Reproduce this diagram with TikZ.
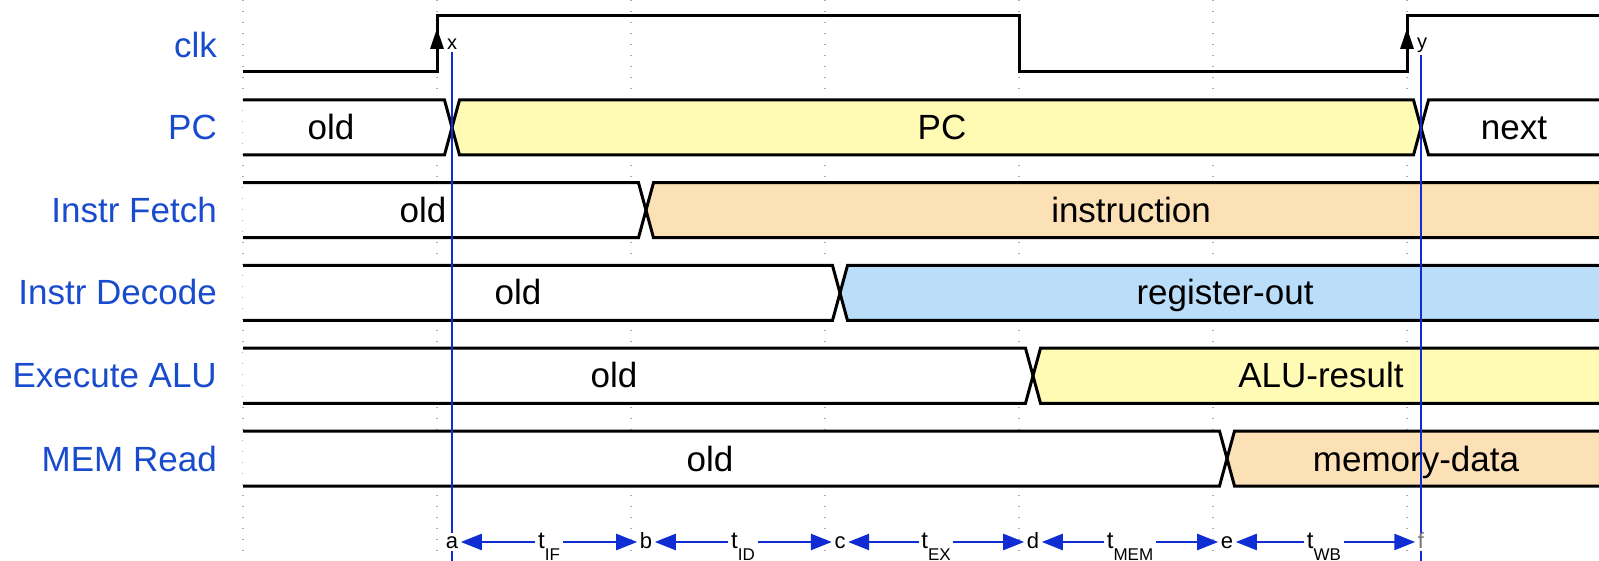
\documentclass[tikz,border=0pt]{standalone}
\usepackage{fontspec}
\setmainfont{Liberation Sans}
\usetikzlibrary{arrows.meta,calc}
\definecolor{sigblue}{RGB}{25,75,205}
\definecolor{markblue}{RGB}{15,45,210}
\definecolor{busyellow}{RGB}{255,250,180}
\definecolor{busorange}{RGB}{252,224,182}
\definecolor{buscyan}{RGB}{186,222,250}
\definecolor{gridgray}{RGB}{170,170,170}

% one bus row: old value (white) until the switch point, then the new value
\newcommand\busrow[3]{%
  \fill[white] (243,#1) -- ({#2-7.5},#1) -- (#2,{#1+27.5}) -- ({#2-7.5},{#1+55}) -- (243,{#1+55}) -- cycle;
  \fill[#3] (1605,#1) -- ({#2+7.5},#1) -- (#2,{#1+27.5}) -- ({#2+7.5},{#1+55}) -- (1605,{#1+55}) -- cycle;
  \draw[wire] (243,#1) -- ({#2-7.5},#1) -- ({#2+7.5},{#1+55}) -- (1605,{#1+55});
  \draw[wire] (243,{#1+55}) -- ({#2-7.5},{#1+55}) -- ({#2+7.5},#1) -- (1605,#1);
}

\begin{document}
\begin{tikzpicture}[x=1pt,y=-1pt,
  rowlabel/.style={anchor=base east,text=sigblue,font=\fontsize{35}{40}\selectfont,inner sep=0pt},
  buslabel/.style={anchor=base,font=\fontsize{35}{40}\selectfont,inner sep=0pt},
  wire/.style={line width=3pt,line join=miter,line cap=butt},
  gridline/.style={gridgray,line width=1.4pt,dash pattern=on 1.4pt off 9.6pt},
  edgemark/.style={line width=2.3pt,markblue},
  edgename/.style={font=\fontsize{20}{20}\selectfont,inner sep=2pt,anchor=base},
  timemark/.style={font=\fontsize{22}{22}\selectfont,inner sep=2.5pt,text height=12pt,text depth=0pt},
  durlabel/.style={font=\fontsize{24}{24}\selectfont,inner sep=2.5pt,text height=12pt,text depth=0pt},
  span/.style={line width=2.5pt,markblue},
  >={Triangle[length=21pt,width=16pt]}
]
\useasboundingbox (0,0) rectangle (1599,561);

% dotted time grid
\foreach \gx in {243,437,...,1407}
  \draw[gridline] (\gx,0) -- (\gx,561);

% clock
\draw[wire] (243,72) -- (437,72) -- (437,16) -- (1019,16) -- (1019,72) -- (1407,72) -- (1407,16) -- (1605,16);
\draw[wire,-{Triangle[length=21pt,width=13pt]}] (437,60) -- (437,28);
\draw[wire,-{Triangle[length=21pt,width=13pt]}] (1407,60) -- (1407,28);

% PC row with two switch points
\fill[white] (243,100) -- (444.5,100) -- (452,127.5) -- (444.5,155) -- (243,155) -- cycle;
\fill[busyellow] (459.5,100) -- (1413.5,100) -- (1421,127.5) -- (1413.5,155) -- (459.5,155) -- (452,127.5) -- cycle;
\fill[white] (1605,100) -- (1428.5,100) -- (1421,127.5) -- (1428.5,155) -- (1605,155) -- cycle;
\draw[wire] (243,100) -- (444.5,100) -- (459.5,155) -- (1413.5,155) -- (1428.5,100) -- (1605,100);
\draw[wire] (243,155) -- (444.5,155) -- (459.5,100) -- (1413.5,100) -- (1428.5,155) -- (1605,155);

% pipeline stage rows
\busrow{182.75}{646}{busorange}
\busrow{265.5}{840}{buscyan}
\busrow{348.25}{1033}{busyellow}
\busrow{431}{1227}{busorange}

% signal names
\node[rowlabel] (lclk) at (217,58) {clk};
\node[rowlabel] (lpc)  at (217,140) {PC};
\node[rowlabel] (lif)  at (217,222.5) {Instr Fetch};
\node[rowlabel] (lid)  at (217,305) {Instr Decode};
\node[rowlabel] (lex)  at (217,388) {Execute ALU};
\node[rowlabel] (lmem) at (217,471) {MEM Read};

% bus values
\node[buslabel] (pcold)  at (331,140) {old};
\node[buslabel] (pcval)  at (942,140) {PC};
\node[buslabel] (pcnext) at (1514,140) {next};
\node[buslabel] (ifold)  at (423,222.5) {old};
\node[buslabel] (ifval)  at (1131,222.5) {instruction};
\node[buslabel] (idold)  at (518,305) {old};
\node[buslabel] (idval)  at (1225,305) {register-out};
\node[buslabel] (exold)  at (614,388) {old};
\node[buslabel] (exval)  at (1321,388) {ALU-result};
\node[buslabel] (memold) at (710,471) {old};
\node[buslabel] (memval) at (1416,471) {memory-data};

% clock edge names
\node[edgename] (x) at (452,50) {x};
\node[edgename] (y) at (1422,49) {y};

% stage boundary marks
\node[timemark] (a) at (452,542) {a};
\node[timemark] (b) at (646,542) {b};
\node[timemark] (c) at (840,542) {c};
\node[timemark] (d) at (1033,542) {d};
\node[timemark] (e) at (1227,542) {e};
\node[timemark,text=black!55] (f) at (1421,542) {f};

% edge cursors
\coordinate (abot) at (452,566);
\coordinate (fbot) at (1421,566);
\draw[edgemark] (x.south) -- (a.north);
\draw[edgemark] (a.south) -- (abot);
\draw[edgemark] (y.south -| f) -- (f.north);
\draw[edgemark] (f.south) -- (fbot);

% stage durations
\node[durlabel] (tif)  at (549,542)  {t\raisebox{-12pt}{\fontsize{17}{17}\selectfont IF}};
\node[durlabel] (tid)  at (743,542)  {t\raisebox{-12pt}{\fontsize{17}{17}\selectfont ID}};
\node[durlabel] (tex)  at (936,542)  {t\raisebox{-12pt}{\fontsize{17}{17}\selectfont EX}};
\node[durlabel] (tmem) at (1130,542) {t\raisebox{-12pt}{\fontsize{17}{17}\selectfont MEM}};
\node[durlabel] (twb)  at (1324,542) {t\raisebox{-12pt}{\fontsize{17}{17}\selectfont WB}};

\draw[span,<-] (a) -- (tif);  \draw[span,->] (tif) -- (b);
\draw[span,<-] (b) -- (tid);  \draw[span,->] (tid) -- (c);
\draw[span,<-] (c) -- (tex);  \draw[span,->] (tex) -- (d);
\draw[span,<-] (d) -- (tmem); \draw[span,->] (tmem) -- (e);
\draw[span,<-] (e) -- (twb);  \draw[span,->] (twb) -- (f);
\end{tikzpicture}
\end{document}
